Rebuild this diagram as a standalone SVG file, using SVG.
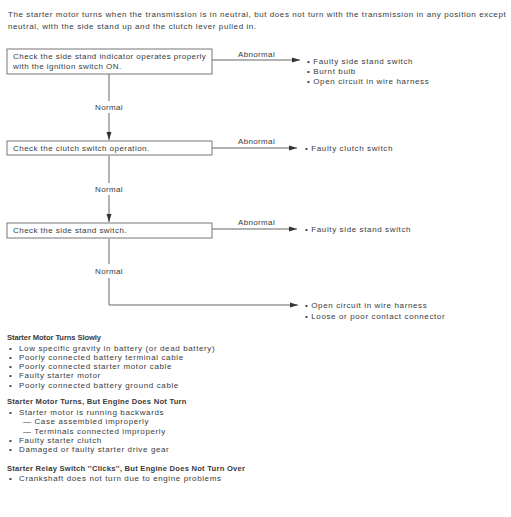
<svg xmlns="http://www.w3.org/2000/svg" width="511" height="517" viewBox="0 0 511 517">
<style>
text{font-family:"Liberation Sans",Arial,sans-serif;font-size:8px;fill:#3a3a3a;letter-spacing:0.62px}
.p{letter-spacing:0.58px}
.bx{letter-spacing:0.45px}
.lb{letter-spacing:0.35px}
.b{font-weight:bold;font-size:7.6px;letter-spacing:0.25px}
.h1{letter-spacing:-0.1px}
.box{fill:#fff;stroke:#777;stroke-width:1}
.ln{fill:none;stroke:#666;stroke-width:1}
</style>
<defs>
<marker id="ah" markerWidth="8" markerHeight="6" refX="8" refY="3" orient="auto" markerUnits="userSpaceOnUse">
<path d="M0,0.5 L8,3 L0,5.5 Z" fill="#333"/>
</marker>
</defs>
<rect width="511" height="517" fill="#fff"/>
<text class="p" x="8" y="17">The starter motor turns when the transmission is in neutral, but does not turn with the transmission in any position except</text>
<text class="p" x="8" y="29">neutral, with the side stand up and the clutch lever pulled in.</text>

<g id="connectors">
<path class="ln" d="M109,74 V101"/>
<path class="ln" d="M109,113 V140" marker-end="url(#ah)"/>
<path class="ln" d="M109,156 V183"/>
<path class="ln" d="M109,195 V222" marker-end="url(#ah)"/>
<path class="ln" d="M109,239 V264"/>
<path class="ln" d="M109,278 V305 H298" marker-end="url(#ah)"/>
<path class="ln" d="M212,60 H300" marker-end="url(#ah)"/>
<path class="ln" d="M212,148 H297" marker-end="url(#ah)"/>
<path class="ln" d="M212,229 H297" marker-end="url(#ah)"/>
<text class="lb" x="238" y="57">Abnormal</text>
<text class="lb" x="238" y="144">Abnormal</text>
<text class="lb" x="238" y="225">Abnormal</text>
<text class="lb" x="95" y="110">Normal</text>
<text class="lb" x="95" y="192">Normal</text>
<text class="lb" x="95" y="274">Normal</text>
</g>

<g id="n1">
<rect class="box" x="7" y="49" width="205" height="25"/>
<text class="bx" x="13" y="59">Check the side stand indicator operates properly</text>
<text class="bx" x="13" y="69">with the ignition switch ON.</text>
</g>
<g id="n2">
<rect class="box" x="7" y="141" width="205" height="14"/>
<text class="bx" x="13" y="151">Check the clutch switch operation.</text>
</g>
<g id="n3">
<rect class="box" x="7" y="223" width="205" height="15"/>
<text class="bx" x="13" y="233">Check the side stand switch.</text>
</g>
<g id="r1">
<text x="307" y="64">• Faulty side stand switch</text>
<text x="307" y="74">• Burnt bulb</text>
<text x="307" y="84">• Open circuit in wire harness</text>
</g>
<g id="r2">
<text x="305" y="151">• Faulty clutch switch</text>
</g>
<g id="r3">
<text x="305" y="232">• Faulty side stand switch</text>
</g>
<g id="r4">
<text x="305" y="308">• Open circuit in wire harness</text>
<text x="305" y="319">• Loose or poor contact connector</text>
</g>

<text class="b h1" x="7" y="340">Starter Motor Turns Slowly</text>
<text x="9" y="351">•</text><text x="19" y="351">Low specific gravity in battery (or dead battery)</text>
<text x="9" y="360">•</text><text x="19" y="360">Poorly connected battery terminal cable</text>
<text x="9" y="369">•</text><text x="19" y="369">Poorly connected starter motor cable</text>
<text x="9" y="378">•</text><text x="19" y="378">Faulty starter motor</text>
<text x="9" y="388">•</text><text x="19" y="388">Poorly connected battery ground cable</text>

<text class="b" x="7" y="404">Starter Motor Turns, But Engine Does Not Turn</text>
<text x="9" y="415">•</text><text x="19" y="415">Starter motor is running backwards</text>
<text x="23" y="424">— Case assembled improperly</text>
<text x="23" y="434">— Terminals connected improperly</text>
<text x="9" y="443">•</text><text x="19" y="443">Faulty starter clutch</text>
<text x="9" y="452">•</text><text x="19" y="452">Damaged or faulty starter drive gear</text>

<text class="b" x="7" y="471">Starter Relay Switch ''Clicks'', But Engine Does Not Turn Over</text>
<text x="9" y="481">•</text><text x="19" y="481">Crankshaft does not turn due to engine problems</text>
</svg>
